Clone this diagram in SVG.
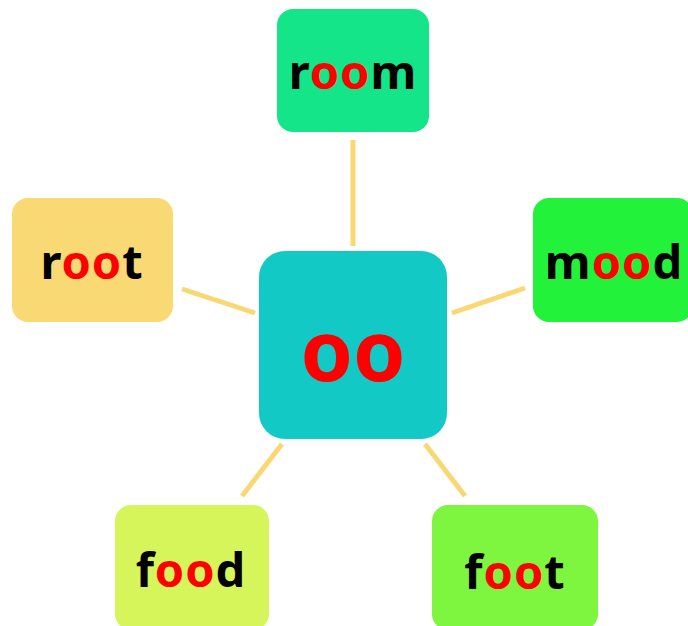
<svg xmlns="http://www.w3.org/2000/svg" width="688" height="626" viewBox="0 0 688 626">
<style>
.t{font-family:"Comic Sans MS","Noto Sans","DejaVu Sans",sans-serif;font-weight:bold;text-anchor:middle;fill:#000}
.w{font-size:47px;letter-spacing:1px}
.r{fill:#FF0000}
.c line{stroke:#F9D874;stroke-width:5}
</style>
<rect width="688" height="626" fill="#FFFFFF"/>
<g id="connectors" class="c">
<line x1="353" y1="140" x2="353" y2="246"/>
<line x1="182" y1="289" x2="255" y2="313"/>
<line x1="452" y1="313" x2="525" y2="288"/>
<line x1="282" y1="444" x2="242" y2="496"/>
<line x1="425" y1="444" x2="465" y2="496"/>
</g>
<g id="center">
<rect x="259" y="251" width="188" height="188" rx="26" fill="#12C9C5"/>
<text class="t r" x="353" y="381" font-size="84">oo</text>
</g>
<g id="room">
<rect x="277" y="9" width="152" height="123" rx="16" fill="#13E588"/>
<text class="t w" x="353" y="89">r<tspan class="r">oo</tspan>m</text>
</g>
<g id="root">
<rect x="12" y="198" width="161" height="124" rx="16" fill="#F9D973"/>
<text class="t w" x="92" y="279">r<tspan class="r">oo</tspan>t</text>
</g>
<g id="mood">
<rect x="533" y="198" width="160" height="124" rx="16" fill="#22F23A"/>
<text class="t w" x="614" y="279">m<tspan class="r">oo</tspan>d</text>
</g>
<g id="food">
<rect x="115" y="505" width="154" height="125" rx="16" fill="#D6F55A"/>
<text class="t w" x="191" y="587">f<tspan class="r">oo</tspan>d</text>
</g>
<g id="foot">
<rect x="432" y="505" width="166" height="125" rx="16" fill="#7EF53F"/>
<text class="t w" x="515" y="589" font-size="52" letter-spacing="3">f<tspan class="r">oo</tspan>t</text>
</g>
</svg>
